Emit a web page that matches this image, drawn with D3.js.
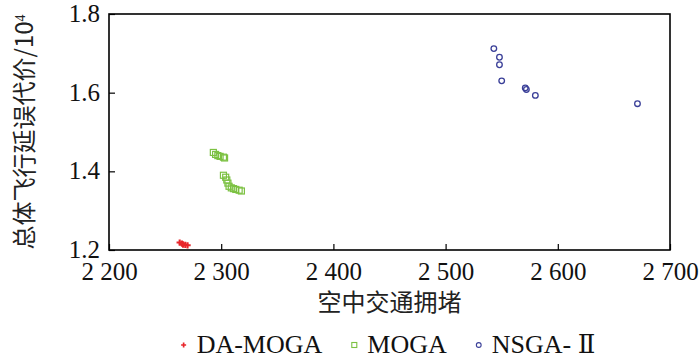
<!DOCTYPE html>
<html>
<head>
<meta charset="utf-8">
<script src="https://cdn.jsdelivr.net/npm/d3@7"></script>
<style>
  body { margin: 0; background: #fff; }
  svg { display: block; }
  .serif { font-family: "Liberation Serif", "DejaVu Serif", serif; }
</style>
</head>
<body>
<div id="chart"></div>
<script>
// --- Datos ---
const xTicks = [2200, 2300, 2400, 2500, 2600, 2700];
const yTicks = [1.2, 1.4, 1.6, 1.8];

const daMogaX = [2263, 2265, 2266, 2268, 2270];
const daMogaY = [1.219, 1.216, 1.214, 1.213, 1.212];

const mogaX = [2293, 2295, 2297, 2299, 2302, 2303, 2302, 2304, 2305, 2306, 2307, 2309, 2311, 2313, 2316, 2318];
const mogaY = [1.448, 1.443, 1.440, 1.438, 1.436, 1.434, 1.390, 1.385, 1.378, 1.370, 1.362, 1.358, 1.356, 1.354, 1.352, 1.350];

const nsgaX = [2543, 2548, 2548, 2550, 2571, 2572, 2580, 2671];
const nsgaY = [1.712, 1.690, 1.671, 1.630, 1.612, 1.608, 1.593, 1.572];

const seriesNames = ["DA-MOGA", "MOGA", "NSGA- Ⅱ"];
const xTitle = "空中交通拥堵";
const yTitle = "总体飞行延误代价/10";

// --- SVG ---
const width = 700, height = 359;
const margin = { top: 14, right: 30, bottom: 109, left: 109 };

const svg = d3.select("#chart").append("svg")
    .attr("width", width)
    .attr("height", height);

const x = d3.scaleLinear()
    .domain([2200, 2700])
    .range([margin.left, width - margin.right]);

const y = d3.scaleLinear()
    .domain([1.2, 1.8])
    .range([height - margin.bottom, margin.top]);

const cjk = "'Noto Sans CJK SC', sans-serif";

// --- Ejes ---
const fmtX = d => String(d).replace(/(\d)(\d{3})$/, "$1 $2");

const xAxis = svg.append("g")
    .attr("transform", `translate(0,${y(1.2)})`)
    .call(d3.axisBottom(x).tickValues(xTicks).tickFormat(fmtX).tickSizeInner(-6).tickSizeOuter(0).tickPadding(12));

const yAxis = svg.append("g")
    .attr("transform", `translate(${x(2200)},0)`)
    .call(d3.axisLeft(y).tickValues(yTicks).tickFormat(d3.format(".1f")).tickSizeInner(-6).tickSizeOuter(0).tickPadding(9));

[xAxis, yAxis].forEach(g => {
    g.attr("font-family", null).attr("font-size", null);
    g.select(".domain").remove();
    g.selectAll("line").attr("stroke", "#000").attr("stroke-width", 1.2);
    g.selectAll("text")
        .attr("class", "serif")
        .attr("fill", "#111")
        .style("font-size", "25px");
});
yAxis.selectAll("text").attr("dy", "0.3em");

// marco
svg.append("rect")
    .attr("x", x(2200))
    .attr("y", y(1.8))
    .attr("width", x(2700) - x(2200))
    .attr("height", y(1.2) - y(1.8))
    .attr("fill", "none")
    .attr("stroke", "#000")
    .attr("stroke-width", 1.6);

// --- Títulos ---
svg.append("text")
    .attr("x", (x(2200) + x(2700)) / 2)
    .attr("y", 311)
    .attr("text-anchor", "middle")
    .style("font-family", cjk)
    .style("font-size", "24px")
    .attr("fill", "#222")
    .text(xTitle);

const yt = svg.append("text")
    .attr("transform", `translate(33,${(y(1.2) + y(1.8)) / 2}) rotate(-90)`)
    .attr("text-anchor", "middle")
    .style("font-family", cjk)
    .style("font-size", "24px")
    .attr("fill", "#222");
yt.append("tspan").text(yTitle);
yt.append("tspan").attr("class", "serif").attr("dy", "-0.55em").style("font-size", "14px").text("4");

// --- Puntos ---
const colors = ["#e8262b", "#7cc142", "#3a3f98"];

const daData = daMogaX.map((v, i) => ({ x: v, y: daMogaY[i] }));
const mogaData = mogaX.map((v, i) => ({ x: v, y: mogaY[i] }));
const nsgaData = nsgaX.map((v, i) => ({ x: v, y: nsgaY[i] }));

svg.append("g").selectAll("path")
    .data(daData)
    .enter()
    .append("path")
    .attr("transform", d => `translate(${x(d.x)},${y(d.y)})`)
    .attr("d", d3.symbol(d3.symbolCross, 22))
    .attr("fill", colors[0]);

svg.append("g").selectAll("rect")
    .data(mogaData)
    .enter()
    .append("rect")
    .attr("x", d => x(d.x) - 3)
    .attr("y", d => y(d.y) - 3)
    .attr("width", 6)
    .attr("height", 6)
    .attr("fill", "none")
    .attr("stroke", colors[1])
    .attr("stroke-width", 1.2);

svg.append("g").selectAll("circle")
    .data(nsgaData)
    .enter()
    .append("circle")
    .attr("cx", d => x(d.x))
    .attr("cy", d => y(d.y))
    .attr("r", 2.8)
    .attr("fill", "none")
    .attr("stroke", colors[2])
    .attr("stroke-width", 1.3);

// --- Leyenda ---
const legend = svg.append("g");
const legendY = 345;
let cursor = 0;
const items = seriesNames.map((name, i) => {
    const g = legend.append("g");
    g.append("text")
        .attr("class", "serif")
        .attr("x", 13)
        .attr("y", legendY + 8)
        .style("font-size", "26px")
        .attr("fill", "#111")
        .text(name);
    const w = 13 + g.select("text").node().getComputedTextLength();
    g.attr("transform", `translate(${cursor},0)`);
    cursor += w + 32;
    return g;
});
cursor -= 32;

items[0].append("path")
    .attr("transform", `translate(0,${legendY})`)
    .attr("d", d3.symbol(d3.symbolCross, 14))
    .attr("fill", colors[0]);
items[1].append("rect")
    .attr("x", -2.5).attr("y", legendY - 2.5)
    .attr("width", 5).attr("height", 5)
    .attr("fill", "none").attr("stroke", colors[1]).attr("stroke-width", 1.1);
items[2].append("circle")
    .attr("cx", 0).attr("cy", legendY).attr("r", 2.4)
    .attr("fill", "none").attr("stroke", colors[2]).attr("stroke-width", 1.1);

legend.attr("transform", `translate(${(x(2200) + x(2700)) / 2 - cursor / 2},0)`);
</script>
</body>
</html>
